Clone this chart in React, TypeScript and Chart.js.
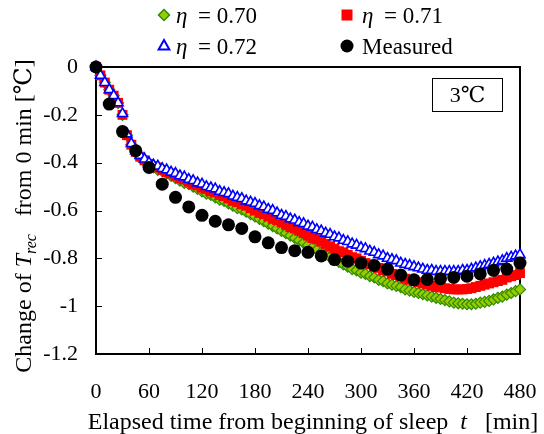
import React, { useEffect, useRef } from "react";
import { Chart, registerables } from "chart.js";

Chart.register(...registerables);

// ---- data ----
const T_MODEL = [0, 5, 10, 15, 20, 25, 30, 35, 40, 45, 50, 55, 60, 65, 70, 75, 80, 85, 90, 95, 100, 105, 110, 115, 120, 125, 130, 135, 140, 145, 150, 155, 160, 165, 170, 175, 180, 185, 190, 195, 200, 205, 210, 215, 220, 225, 230, 235, 240, 245, 250, 255, 260, 265, 270, 275, 280, 285, 290, 295, 300, 305, 310, 315, 320, 325, 330, 335, 340, 345, 350, 355, 360, 365, 370, 375, 380, 385, 390, 395, 400, 405, 410, 415, 420, 425, 430, 435, 440, 445, 450, 455, 460, 465, 470, 475, 480];

const ETA_070 = [0, -0.035, -0.065, -0.095, -0.12, -0.15, -0.2, -0.285, -0.325, -0.355,
  -0.38, -0.395, -0.41, -0.42, -0.43, -0.435, -0.445, -0.455, -0.465, -0.475,
  -0.485, -0.49, -0.5, -0.51, -0.52, -0.53, -0.535, -0.545, -0.555, -0.56,
  -0.57, -0.58, -0.59, -0.595, -0.605, -0.615, -0.625, -0.635, -0.645, -0.655,
  -0.665, -0.675, -0.685, -0.695, -0.705, -0.715, -0.725, -0.735, -0.745, -0.755,
  -0.765, -0.775, -0.785, -0.795, -0.805, -0.815, -0.825, -0.835, -0.845, -0.85,
  -0.86, -0.865, -0.875, -0.88, -0.89, -0.895, -0.905, -0.91, -0.915, -0.92,
  -0.93, -0.935, -0.94, -0.945, -0.95, -0.955, -0.96, -0.965, -0.97, -0.975,
  -0.98, -0.985, -0.988, -0.99, -0.992, -0.992, -0.99, -0.985, -0.982, -0.978,
  -0.972, -0.965, -0.96, -0.952, -0.945, -0.937, -0.93];

const ETA_071 = [0, -0.035, -0.065, -0.095, -0.12, -0.15, -0.2, -0.285, -0.325, -0.355,
  -0.375, -0.39, -0.405, -0.415, -0.42, -0.43, -0.44, -0.445, -0.455, -0.465,
  -0.47, -0.48, -0.49, -0.495, -0.505, -0.51, -0.52, -0.525, -0.535, -0.54,
  -0.55, -0.56, -0.565, -0.575, -0.58, -0.59, -0.6, -0.61, -0.615, -0.625,
  -0.635, -0.64, -0.65, -0.66, -0.67, -0.675, -0.685, -0.695, -0.705, -0.715,
  -0.72, -0.73, -0.74, -0.75, -0.76, -0.77, -0.775, -0.785, -0.795, -0.8,
  -0.81, -0.82, -0.825, -0.835, -0.84, -0.85, -0.855, -0.865, -0.87, -0.875,
  -0.885, -0.89, -0.895, -0.9, -0.905, -0.91, -0.915, -0.92, -0.922, -0.925,
  -0.928, -0.93, -0.93, -0.93, -0.928, -0.925, -0.92, -0.915, -0.91, -0.905,
  -0.9, -0.895, -0.89, -0.88, -0.875, -0.87, -0.862];

const ETA_072 = [0, -0.035, -0.065, -0.095, -0.12, -0.15, -0.195, -0.28, -0.32, -0.35,
  -0.37, -0.385, -0.4, -0.41, -0.415, -0.425, -0.43, -0.44, -0.445, -0.455,
  -0.46, -0.47, -0.475, -0.485, -0.49, -0.5, -0.505, -0.51, -0.52, -0.525,
  -0.53, -0.54, -0.545, -0.55, -0.56, -0.565, -0.57, -0.58, -0.585, -0.595,
  -0.6, -0.61, -0.62, -0.625, -0.635, -0.64, -0.65, -0.655, -0.665, -0.67,
  -0.68, -0.685, -0.695, -0.7, -0.71, -0.715, -0.725, -0.73, -0.74, -0.745,
  -0.755, -0.76, -0.77, -0.775, -0.785, -0.79, -0.8, -0.805, -0.81, -0.82,
  -0.825, -0.83, -0.835, -0.84, -0.845, -0.85, -0.85, -0.855, -0.855, -0.855,
  -0.855, -0.855, -0.855, -0.85, -0.85, -0.845, -0.84, -0.835, -0.83, -0.825,
  -0.82, -0.815, -0.81, -0.8, -0.795, -0.79, -0.785];

const T_MEAS = [0, 15, 30, 45, 60, 75, 90, 105, 120, 135, 150, 165, 180, 195, 210, 225, 240, 255, 270, 285, 300, 315, 330, 345, 360, 375, 390, 405, 420, 435, 450, 465, 480];

const MEASURED = [0, -0.155, -0.27, -0.35, -0.42, -0.49, -0.545, -0.585, -0.62, -0.645,
  -0.66, -0.675, -0.71, -0.735, -0.755, -0.768, -0.775, -0.79, -0.805, -0.812,
  -0.82, -0.83, -0.845, -0.87, -0.89, -0.888, -0.885, -0.88, -0.875, -0.865,
  -0.85, -0.845, -0.82];

const X_TICKS = [0, 60, 120, 180, 240, 300, 360, 420, 480];
const Y_TICKS = [0, -0.2, -0.4, -0.6, -0.8, -1, -1.2];
const Y_TICK_LABELS = ["0", "-0.2", "-0.4", "-0.6", "-0.8", "-1", "-1.2"];

const SERIES_LABELS = ["= 0.70", "= 0.71", "= 0.72", "Measured"];
const X_TITLE = "Elapsed time from beginning of sleep";
const Y_TITLE_A = "Change of ";
const Y_TITLE_B = " from 0 min [\u2103]";
const BOX_TEXT = "3\u2103";

const SERIF = '"Liberation Serif", "Times New Roman", "DejaVu Serif", "Noto Sans CJK JP", serif';
const GREEN_FILL = "#99cc00";
const GREEN_EDGE = "#2e8b00";
const RED = "#ff0000";
const BLUE = "#0000ff";

type Run = { text: string; size: number; italic?: boolean; dy?: number };

function runWidth(ctx: CanvasRenderingContext2D, runs: Run[]) {
  let w = 0;
  for (const r of runs) {
    ctx.font = `${r.italic ? "italic " : ""}${r.size}px ${SERIF}`;
    w += ctx.measureText(r.text).width;
  }
  return w;
}

function drawRuns(ctx: CanvasRenderingContext2D, runs: Run[], x: number, y: number) {
  let cx = x;
  for (const r of runs) {
    ctx.font = `${r.italic ? "italic " : ""}${r.size}px ${SERIF}`;
    ctx.fillText(r.text, cx, y + (r.dy || 0));
    cx += ctx.measureText(r.text).width;
  }
}

function drawMarker(ctx: CanvasRenderingContext2D, kind: string, x: number, y: number) {
  ctx.save();
  if (kind === "diamond") {
    const r = 5.5;
    ctx.beginPath();
    ctx.moveTo(x, y - r); ctx.lineTo(x + r, y); ctx.lineTo(x, y + r); ctx.lineTo(x - r, y); ctx.closePath();
    ctx.fillStyle = GREEN_FILL; ctx.fill();
    ctx.strokeStyle = GREEN_EDGE; ctx.lineWidth = 1.5; ctx.stroke();
  } else if (kind === "square") {
    ctx.fillStyle = RED;
    ctx.fillRect(x - 5.5, y - 5.5, 11, 11);
  } else if (kind === "triangle") {
    const r = 6;
    ctx.beginPath();
    ctx.moveTo(x, y - r);
    ctx.lineTo(x + r * 0.9, y + r * 0.6);
    ctx.lineTo(x - r * 0.9, y + r * 0.6);
    ctx.closePath();
    ctx.fillStyle = "#fff"; ctx.fill();
    ctx.strokeStyle = BLUE; ctx.lineWidth = 2; ctx.stroke();
  } else {
    ctx.beginPath();
    ctx.arc(x, y, 6.5, 0, Math.PI * 2);
    ctx.fillStyle = "#000"; ctx.fill();
  }
  ctx.restore();
}

const decor = {
  id: "decor",
  beforeDatasetsDraw(chart: any) {
    const { ctx, chartArea: a } = chart;
    const xs = chart.scales.x;
    const ys = chart.scales.y;
    ctx.save();
    ctx.strokeStyle = "#000";
    ctx.lineWidth = 1;
    for (const v of X_TICKS) {
      const px = Math.round(xs.getPixelForValue(v)) + 0.5;
      ctx.beginPath(); ctx.moveTo(px, a.bottom); ctx.lineTo(px, a.bottom - 6); ctx.stroke();
    }
    for (const v of Y_TICKS) {
      const py = Math.round(ys.getPixelForValue(v)) + 0.5;
      ctx.beginPath(); ctx.moveTo(a.left, py); ctx.lineTo(a.left + 6, py); ctx.stroke();
    }
    ctx.lineWidth = 2;
    ctx.strokeRect(a.left, a.top, a.right - a.left, a.bottom - a.top);
    // label box
    ctx.lineWidth = 1;
    ctx.strokeRect(432.5, 78.5, 70, 33);
    ctx.fillStyle = "#000";
    ctx.textAlign = "center";
    ctx.textBaseline = "middle";
    ctx.font = `22px ${SERIF}`;
    ctx.fillText(BOX_TEXT, 467.5, 96);
    ctx.restore();
  },
  afterDraw(chart: any) {
    const { ctx } = chart;
    ctx.save();
    ctx.fillStyle = "#000";
    ctx.textAlign = "left";
    ctx.textBaseline = "alphabetic";

    // legend
    const L = [
      { kind: "diamond", mx: 164, y: 15, tx: 176, eta: true, label: SERIES_LABELS[0] },
      { kind: "square", mx: 347, y: 15, tx: 362, eta: true, label: SERIES_LABELS[1] },
      { kind: "triangle", mx: 164, y: 46, tx: 176, eta: true, label: SERIES_LABELS[2] },
      { kind: "circle", mx: 347, y: 46, tx: 362, eta: false, label: SERIES_LABELS[3] },
    ];
    for (const it of L) {
      drawMarker(ctx, it.kind, it.mx, it.y);
      ctx.fillStyle = "#000";
      ctx.textAlign = "left";
      ctx.textBaseline = "alphabetic";
      if (it.eta) {
        drawRuns(ctx, [{ text: "\u03B7", size: 23, italic: true }], it.tx, it.y + 8);
        drawRuns(ctx, [{ text: it.label, size: 23 }], it.tx + 22, it.y + 8);
      } else {
        drawRuns(ctx, [{ text: it.label, size: 23 }], it.tx, it.y + 8);
      }
    }

    // x title
    const xr: Run[] = [
      { text: X_TITLE + "  ", size: 24 },
      { text: "t", size: 24, italic: true },
      { text: "   [min]", size: 24 },
    ];
    const xw = runWidth(ctx, xr);
    drawRuns(ctx, xr, 313 - xw / 2, 429);

    // y title
    const yr: Run[] = [
      { text: Y_TITLE_A, size: 24 },
      { text: "T", size: 24, italic: true },
      { text: "rec", size: 16, italic: true, dy: 5 },
      { text: "  " + Y_TITLE_B, size: 24 },
    ];
    const yw = runWidth(ctx, yr);
    ctx.translate(31, 216);
    ctx.rotate(-Math.PI / 2);
    drawRuns(ctx, yr, -yw / 2, 0);
    ctx.restore();
  },
};

export default function App() {
  const ref = useRef<HTMLCanvasElement | null>(null);
  useEffect(() => {
    if (!ref.current) return;
    const pts = (xs: number[], ys: number[]) => xs.map((x, i) => ({ x, y: ys[i] }));
    const chart = new Chart(ref.current, {
      type: "scatter",
      data: {
        datasets: [
          {
            label: "Measured",
            data: pts(T_MEAS, MEASURED),
            pointStyle: "circle",
            pointRadius: 6.5,
            backgroundColor: "#000",
            borderColor: "#000",
            borderWidth: 0,
            order: 0,
            clip: false,
          },
          {
            label: "eta 0.72",
            data: pts(T_MODEL, ETA_072),
            pointStyle: "triangle",
            pointRadius: 5.8,
            backgroundColor: "#ffffff",
            borderColor: BLUE,
            borderWidth: 1.6,
            order: 1,
            clip: false,
          },
          {
            label: "eta 0.71",
            data: pts(T_MODEL, ETA_071),
            pointStyle: "rect",
            pointRadius: 7,
            backgroundColor: RED,
            borderColor: RED,
            borderWidth: 0,
            order: 2,
            clip: false,
          },
          {
            label: "eta 0.70",
            data: pts(T_MODEL, ETA_070),
            pointStyle: "rectRot",
            pointRadius: 5.5,
            backgroundColor: GREEN_FILL,
            borderColor: GREEN_EDGE,
            borderWidth: 1.2,
            order: 3,
            clip: false,
          },
        ] as any,
      },
      options: {
        responsive: false,
        devicePixelRatio: 1,
        animation: false,
        layout: { padding: { left: 0, top: 67, right: 24, bottom: 0 } },
        plugins: { legend: { display: false }, tooltip: { enabled: false } },
        events: [],
        scales: {
          x: {
            type: "linear",
            min: 0,
            max: 480,
            grid: { display: false, drawTicks: false },
            border: { display: false },
            afterBuildTicks: (s: any) => { s.ticks = X_TICKS.map((v) => ({ value: v })); },
            afterFit: (s: any) => { s.height = 80; s.paddingLeft = 0; s.paddingRight = 0; },
            ticks: {
              padding: 25,
              color: "#000",
              font: { family: SERIF, size: 22 },
              maxRotation: 0,
              autoSkip: false,
              callback: (v: any) => String(v),
            },
          },
          y: {
            type: "linear",
            min: -1.2,
            max: 0,
            grid: { display: false, drawTicks: false },
            border: { display: false },
            afterBuildTicks: (s: any) => { s.ticks = Y_TICKS.map((v) => ({ value: v })); },
            afterFit: (s: any) => { s.width = 96; s.paddingTop = 0; s.paddingBottom = 0; },
            ticks: {
              padding: 18,
              color: "#000",
              font: { family: SERIF, size: 22 },
              autoSkip: false,
              callback: (v: any) => {
                const i = Y_TICKS.findIndex((t) => Math.abs(t - v) < 1e-9);
                return i >= 0 ? Y_TICK_LABELS[i] : "";
              },
            },
          },
        },
      } as any,
      plugins: [decor],
    });
    return () => chart.destroy();
  }, []);
  return (
    <div style={{ position: "absolute", left: 0, top: 0, width: 544, height: 434, background: "#fff" }}>
      <canvas ref={ref} width={544} height={434} style={{ width: 544, height: 434, display: "block" }} />
    </div>
  );
}
